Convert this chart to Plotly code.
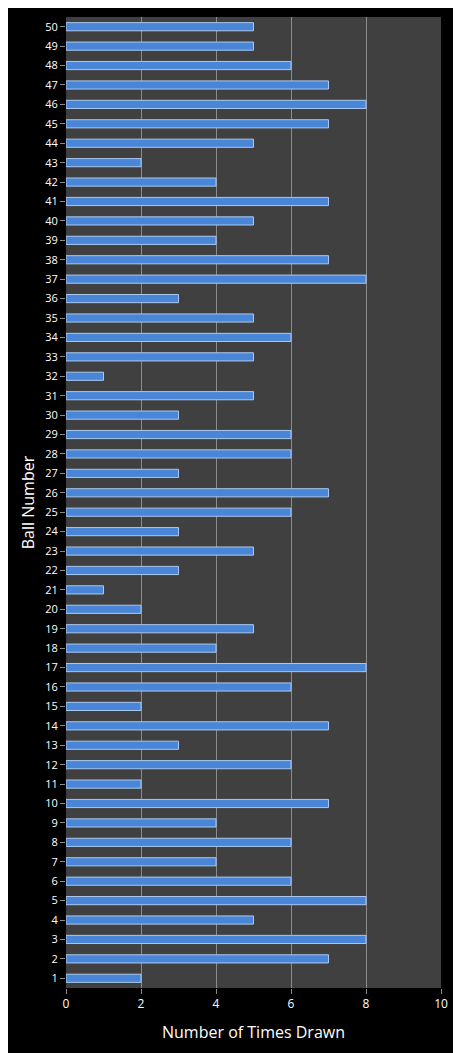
import plotly.graph_objects as go

balls = list(range(1, 51))
times_drawn = [2, 7, 8, 5, 8, 6, 4, 6, 4, 7,
               2, 6, 3, 7, 2, 6, 8, 4, 5, 2,
               1, 3, 5, 3, 6, 7, 3, 6, 6, 3,
               5, 1, 5, 6, 5, 3, 8, 7, 4, 5,
               7, 4, 2, 5, 7, 8, 7, 6, 5, 5]

fig = go.Figure(go.Bar(
    x=times_drawn, y=balls, orientation="h",
    marker=dict(color="#4a86d8", line=dict(color="#a9c8f0", width=1)),
    width=0.42,
))

# page adds an 8px body margin, so the figure is a bit smaller and shifted
fig.update_layout(
    width=453, height=1045,
    paper_bgcolor="black", plot_bgcolor="#404040",
    margin=dict(l=58, r=20, t=9, b=65),
    font=dict(family="Open Sans, DejaVu Sans", color="white", size=12),
    showlegend=False,
)
fig.update_xaxes(
    range=[0, 10], dtick=2, showgrid=True, gridcolor="#8c8c8c", gridwidth=1,
    zeroline=False, ticks="outside", tickcolor="#8c8c8c",
    title=dict(text="Number of Times Drawn", font=dict(size=16)),
)
fig.update_yaxes(
    range=[0.5, 50.5], dtick=1, showgrid=False, zeroline=False,
    ticks="outside", tickcolor="#8c8c8c", tickfont=dict(size=11),
    title=dict(text="Ball Number", font=dict(size=16), standoff=6),
)

fig.write_html("out.html")
